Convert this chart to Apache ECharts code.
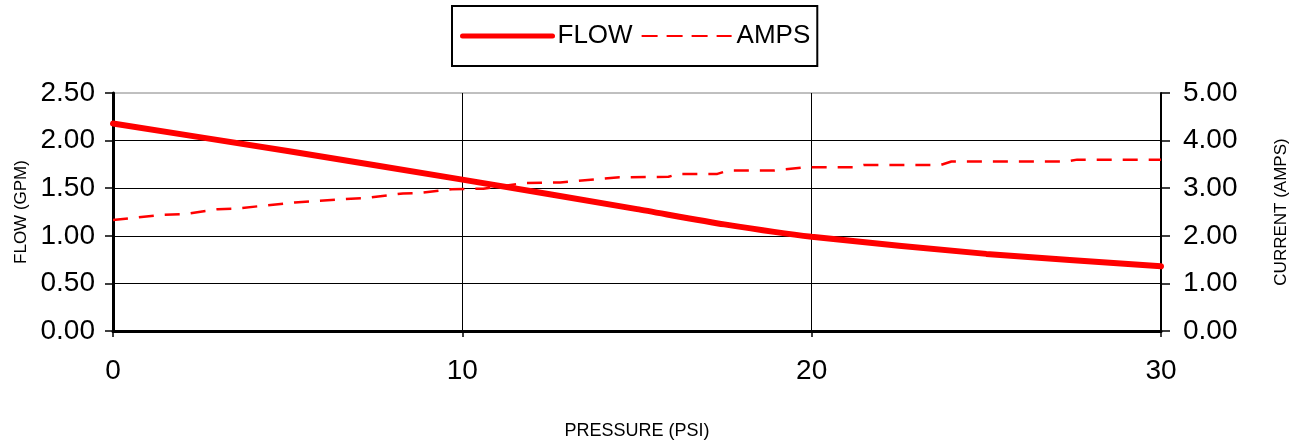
<!DOCTYPE html>
<html>
<head>
<meta charset="utf-8">
<script src="https://cdn.jsdelivr.net/npm/echarts@6/dist/echarts.min.js"></script>
<style>
html,body{margin:0;padding:0;background:#fff;}
#chart{width:1298px;height:445px;}
</style>
</head>
<body>
<div id="chart"></div>
<script>
var legendNames = ['FLOW', 'AMPS'];
var flowPressure = [0, 5, 10, 15, 17.5, 20, 25, 30];
var flowGpm = [2.18, 1.89, 1.59, 1.28, 1.12, 0.99, 0.81, 0.68];
var ampsPressure = [0, 1.4, 2.1, 3.0, 3.5, 5.2, 6.6, 7.3, 8.3, 8.8, 9.7, 10.6, 11.8, 12.8, 14.5, 15.9, 16.2, 17.3, 17.6, 18.9, 19.8, 21.2, 21.5, 23.7, 24.0, 27.3, 27.6, 30];
var ampsCurrent = [2.33, 2.44, 2.46, 2.56, 2.57, 2.70, 2.77, 2.80, 2.89, 2.90, 2.98, 2.99, 3.11, 3.12, 3.23, 3.24, 3.30, 3.30, 3.37, 3.37, 3.44, 3.44, 3.49, 3.49, 3.56, 3.56, 3.60, 3.60];
var xTicks = [0, 10, 20, 30];
var leftTicks = [0, 0.5, 1, 1.5, 2, 2.5];
var rightTicks = [0, 1, 2, 3, 4, 5];

function pairs(xs, ys) { return xs.map(function (x, i) { return [x, ys[i]]; }); }

var FONT = "'Liberation Sans', Arial, sans-serif";
var chart = echarts.init(document.getElementById('chart'));
chart.setOption({
  animation: false,
  backgroundColor: '#ffffff',
  textStyle: { fontFamily: FONT, color: '#000' },
  legend: {
    data: [
      { name: legendNames[0], lineStyle: { width: 5, color: '#ff0000', cap: 'round' } },
      { name: legendNames[1], lineStyle: { width: 2, color: '#ff0000', type: [16, 9] } }
    ],
    left: 452, top: 6,
    orient: 'horizontal',
    padding: [17, 7, 17, 8],
    itemGap: 8,
    itemWidth: 90,
    itemHeight: 26,
    itemStyle: { opacity: 0 },
    borderColor: '#000', borderWidth: 2,
    textStyle: { fontFamily: FONT, fontSize: 26, color: '#000' }
  },
  grid: {
    left: 113, right: 137, top: 93, bottom: 114,
    show: true, borderColor: '#808080', borderWidth: 1,
    outerBoundsMode: 'none', containLabel: false
  },
  xAxis: {
    type: 'value', min: xTicks[0], max: xTicks[xTicks.length - 1], interval: 10,
    name: 'PRESSURE (PSI)', nameLocation: 'middle', nameGap: 91,
    nameTextStyle: { fontFamily: FONT, fontSize: 18, color: '#000' },
    axisLine: { lineStyle: { color: '#000', width: 3 } },
    axisTick: { show: true, inside: false, length: 6, lineStyle: { color: '#000', width: 1.5 } },
    axisLabel: { fontFamily: FONT, fontSize: 28, color: '#000', margin: 26 },
    splitLine: { show: true, showMinLine: false, showMaxLine: false, lineStyle: { color: '#000', width: 1 } }
  },
  yAxis: [{
    type: 'value', position: 'left', min: leftTicks[0], max: leftTicks[leftTicks.length - 1], interval: 0.5,
    name: 'FLOW (GPM)', nameLocation: 'middle', nameGap: 79, nameRotate: 90,
    nameTextStyle: { fontFamily: FONT, fontSize: 17, color: '#000' },
    axisLine: { show: true, lineStyle: { color: '#000', width: 3 } },
    axisTick: { show: true, inside: false, length: 8, lineStyle: { color: '#000', width: 1.5 } },
    axisLabel: { fontFamily: FONT, fontSize: 28, color: '#000', margin: 18, formatter: function (v) { return v.toFixed(2); } },
    splitLine: { show: true, showMinLine: false, showMaxLine: false, lineStyle: { color: '#000', width: 1 } }
  }, {
    type: 'value', position: 'right', min: rightTicks[0], max: rightTicks[rightTicks.length - 1], interval: 1,
    name: 'CURRENT (AMPS)', nameLocation: 'middle', nameGap: 112, nameRotate: 90,
    nameTextStyle: { fontFamily: FONT, fontSize: 17, color: '#000' },
    axisLine: { show: true, lineStyle: { color: '#000', width: 2 } },
    axisTick: { show: true, inside: false, length: 9, lineStyle: { color: '#000', width: 1.5 } },
    axisLabel: { fontFamily: FONT, fontSize: 28, color: '#000', margin: 22, formatter: function (v) { return v.toFixed(2); } },
    splitLine: { show: false }
  }],
  series: [{
    name: legendNames[0], type: 'line', yAxisIndex: 0,
    data: pairs(flowPressure, flowGpm),
    symbol: 'none', smooth: 0.2,
    lineStyle: { color: '#ff0000', width: 6, cap: 'round' },
    itemStyle: { color: '#ff0000' }
  }, {
    name: legendNames[1], type: 'line', yAxisIndex: 1,
    data: pairs(ampsPressure, ampsCurrent),
    symbol: 'none',
    lineStyle: { color: '#ff0000', width: 2.5, type: [15, 11] },
    itemStyle: { color: '#ff0000' }
  }]
});
</script>
</body>
</html>
